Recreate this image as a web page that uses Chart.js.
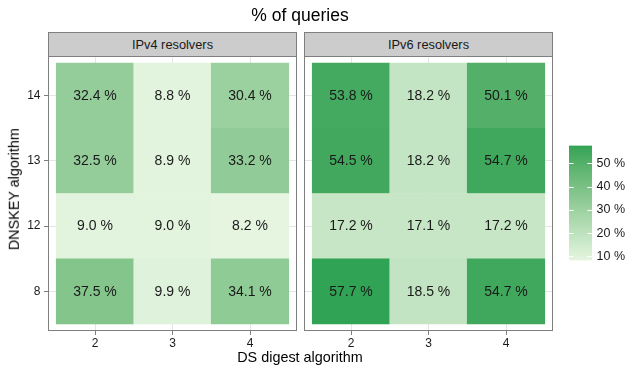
<!DOCTYPE html>
<html>
<head>
<meta charset="utf-8">
<script src="https://cdn.jsdelivr.net/npm/chart.js@4/dist/chart.umd.min.js"></script>
<style>
  html, body { margin: 0; padding: 0; background: #ffffff; }
  #wrap { position: relative; width: 627px; height: 367px; overflow: hidden; background: #ffffff;
          font-family: 'Liberation Sans', Arial, Helvetica, sans-serif; color: #000; }
  #wrap canvas { position: absolute; left: 0; top: 0; width: 627px; height: 367px; }
  .txt { position: absolute; white-space: nowrap; text-align: center; line-height: 1; }
  .strip { position: absolute; box-sizing: border-box; border: 1px solid #7f7f7f; background: #cccccc;
           text-align: center; font-size: 12.8px; line-height: 22px; padding-top: 1px; color: #1a1a1a; }
</style>
</head>
<body>
<div id="wrap">
  <canvas id="panel1" width="627" height="367"></canvas>
  <canvas id="panel2" width="627" height="367"></canvas>
  <canvas id="colorbar" width="627" height="367"></canvas>
  <div class="txt" id="title" style="left:0;width:600px;top:7px;font-size:17.5px;">% of queries</div>
  <div class="txt" id="xtitle" style="left:0;width:600px;top:349.8px;font-size:14.4px;">DS digest algorithm</div>
  <div class="txt" id="ytitle" style="left:-85.7px;top:181.5px;width:200px;height:14.4px;font-size:14.4px;transform:rotate(-90deg);">DNSKEY algorithm</div>
</div>
<script>
// DS digest algorithms (columns) and DNSKEY algorithms (rows, bottom to top)
const dsAlgorithms = ['2', '3', '4'];
const dnskeyAlgorithms = ['8', '12', '13', '14'];

// share of queries in percent, one row per DNSKEY algorithm, one column per DS digest
const ipv4Shares = [
  [37.5, 9.9, 34.1],   // 8
  [9.0, 9.0, 8.2],     // 12
  [32.5, 8.9, 33.2],   // 13
  [32.4, 8.8, 30.4]    // 14
];
const ipv6Shares = [
  [57.7, 18.5, 54.7],  // 8
  [17.2, 17.1, 17.2],  // 12
  [54.5, 18.2, 54.7],  // 13
  [53.8, 18.2, 50.1]   // 14
];
const panelNames = ['IPv4 resolvers', 'IPv6 resolvers'];
const legendBreaks = [10, 20, 30, 40, 50];

const FONT = "'Liberation Sans', Arial, Helvetica, sans-serif";
const LOW = '#e5f5e0', HIGH = '#31a354';

// ---- colour scale: linear gradient interpolated in CIE Lab ----
function hex2rgb(h) { return [1, 3, 5].map(i => parseInt(h.slice(i, i + 2), 16)); }
function toLin(c) { c /= 255; return c <= 0.04045 ? c / 12.92 : Math.pow((c + 0.055) / 1.055, 2.4); }
function fromLin(c) {
  const v = c <= 0.0031308 ? 12.92 * c : 1.055 * Math.pow(c, 1 / 2.4) - 0.055;
  return Math.round(Math.max(0, Math.min(1, v)) * 255);
}
const WP = [0.95047, 1, 1.08883];
function rgb2lab(rgb) {
  const [R, G, B] = rgb.map(toLin);
  const X = 0.4124564 * R + 0.3575761 * G + 0.1804375 * B;
  const Y = 0.2126729 * R + 0.7151522 * G + 0.0721750 * B;
  const Z = 0.0193339 * R + 0.1191920 * G + 0.9503041 * B;
  const f = t => t > 0.008856 ? Math.cbrt(t) : 7.787 * t + 16 / 116;
  const fx = f(X / WP[0]), fy = f(Y / WP[1]), fz = f(Z / WP[2]);
  return [116 * fy - 16, 500 * (fx - fy), 200 * (fy - fz)];
}
function lab2rgb(lab) {
  const [L, a, b] = lab;
  const fy = (L + 16) / 116, fx = fy + a / 500, fz = fy - b / 200;
  const finv = t => (t * t * t > 0.008856 ? t * t * t : (t - 16 / 116) / 7.787);
  const X = WP[0] * finv(fx), Y = WP[1] * finv(fy), Z = WP[2] * finv(fz);
  const R = 3.2404542 * X - 1.5371385 * Y - 0.4985314 * Z;
  const G = -0.9692660 * X + 1.8760108 * Y + 0.0415560 * Z;
  const B = 0.0556434 * X - 0.2040259 * Y + 1.0572252 * Z;
  return [fromLin(R), fromLin(G), fromLin(B)];
}
const allShares = ipv4Shares.flat().concat(ipv6Shares.flat());
const scaleLo = Math.min(...allShares), scaleHi = Math.max(...allShares);
const labLow = rgb2lab(hex2rgb(LOW)), labHigh = rgb2lab(hex2rgb(HIGH));
function fillFor(v) {
  const t = Math.max(0, Math.min(1, (v - scaleLo) / (scaleHi - scaleLo)));
  const lab = labLow.map((c, k) => c + (labHigh[k] - c) * t);
  const [r, g, b] = lab2rgb(lab);
  return `rgb(${r},${g},${b})`;
}

// ---- shared plugins ----
function cellLabels(values) {
  return {
    id: 'cellLabels',
    afterDatasetsDraw(chart) {
      const { ctx, scales: { x, y } } = chart;
      ctx.save();
      ctx.font = `14px ${FONT}`;
      ctx.fillStyle = '#1a1a1a';
      ctx.textAlign = 'center';
      ctx.textBaseline = 'middle';
      values.forEach((row, i) => row.forEach((v, j) => {
        ctx.fillText(v.toFixed(1) + ' %', x.getPixelForValue(j + 1), y.getPixelForValue(i + 1) + 0.5);
      }));
      ctx.restore();
    }
  };
}
const panelFrame = {
  id: 'panelFrame',
  afterDraw(chart) {
    const a = chart.chartArea, ctx = chart.ctx;
    ctx.save();
    ctx.strokeStyle = '#7f7f7f';
    ctx.lineWidth = 1;
    ctx.strokeRect(a.left, a.top, a.right - a.left, a.bottom - a.top);
    ctx.restore();
  }
};

// ---- heatmap panels ----
const PANEL_TOP = 56.5, PANEL_BOTTOM = 330.5, PANEL_W = 248;
function makePanel(canvasId, values, left, showRowLabels) {
  const right = left + PANEL_W;
  return new Chart(document.getElementById(canvasId), {
    type: 'bar',
    data: {
      datasets: dnskeyAlgorithms.map((alg, i) => ({
        label: alg,
        data: dsAlgorithms.map((d, j) => ({ x: j + 1, y: [i + 0.5, i + 1.5] })),
        backgroundColor: values[i].map(fillFor),
        borderWidth: 0,
        grouped: false,
        barPercentage: 1,
        categoryPercentage: 1
      }))
    },
    options: {
      responsive: false,
      animation: false,
      devicePixelRatio: 1,
      events: [],
      layout: { padding: { left: 0, top: PANEL_TOP, right: 627 - right, bottom: 0 } },
      plugins: { legend: { display: false }, tooltip: { enabled: false }, title: { display: false } },
      scales: {
        x: {
          type: 'linear', min: 0.4, max: 3.6, offset: false,
          border: { display: false },
          grid: { offset: false, color: '#e5e5e5', tickColor: '#7f7f7f', tickLength: 4.5, lineWidth: 1 },
          ticks: {
            padding: 1.5, color: '#1a1a1a', font: { family: FONT, size: 12 },
            maxRotation: 0, autoSkip: false,
            callback: v => dsAlgorithms[v - 1]
          },
          afterBuildTicks: s => { s.ticks = dsAlgorithms.map((d, j) => ({ value: j + 1 })); },
          afterFit: s => { s.height = 367 - PANEL_BOTTOM; }
        },
        y: {
          type: 'linear', min: 0.4, max: 4.6, offset: false,
          border: { display: false },
          grid: { offset: false, color: '#e5e5e5', tickColor: '#7f7f7f', tickLength: 4.5, lineWidth: 1, drawTicks: showRowLabels },
          ticks: {
            display: showRowLabels, padding: 3.5, color: '#1a1a1a', font: { family: FONT, size: 12 },
            autoSkip: false,
            callback: v => dnskeyAlgorithms[v - 1]
          },
          afterBuildTicks: s => { s.ticks = dnskeyAlgorithms.map((a, i) => ({ value: i + 1 })); },
          afterFit: s => { s.width = left; }
        }
      }
    },
    plugins: [cellLabels(values), panelFrame]
  });
}

makePanel('panel1', ipv4Shares, 48.5, true);
makePanel('panel2', ipv6Shares, 304.5, false);

// strip headers above each panel
[48, 304].forEach((x, p) => {
  const d = document.createElement('div');
  d.className = 'strip';
  d.style.left = x + 'px';
  d.style.top = '32px';
  d.style.width = '249px';
  d.style.height = '25px';
  d.textContent = panelNames[p];
  document.getElementById('wrap').appendChild(d);
});

// ---- colour bar legend ----
const BAR_TOP = 145.5, BAR_BOTTOM = 260.5, BAR_LEFT = 569, BAR_RIGHT = 592;
const colorbarTicks = {
  id: 'colorbarTicks',
  afterDatasetsDraw(chart) {
    const { ctx, chartArea: a, scales: { y } } = chart;
    const len = (a.right - a.left) / 5;
    ctx.save();
    ctx.strokeStyle = '#ffffff';
    ctx.lineWidth = 1;
    legendBreaks.forEach(b => {
      const py = Math.round(y.getPixelForValue(b)) + 0.5;
      ctx.beginPath();
      ctx.moveTo(a.left, py); ctx.lineTo(a.left + len, py);
      ctx.moveTo(a.right - len, py); ctx.lineTo(a.right, py);
      ctx.stroke();
    });
    ctx.restore();
  }
};
new Chart(document.getElementById('colorbar'), {
  type: 'bar',
  data: {
    labels: ['% of queries'],
    datasets: [{
      data: [[scaleLo, scaleHi]],
      backgroundColor: (c) => {
        const area = c.chart.chartArea;
        if (!area) return fillFor(scaleLo);
        const g = c.chart.ctx.createLinearGradient(0, area.bottom, 0, area.top);
        for (let k = 0; k <= 40; k++) {
          g.addColorStop(k / 40, fillFor(scaleLo + (scaleHi - scaleLo) * k / 40));
        }
        return g;
      },
      borderWidth: 0,
      barPercentage: 1,
      categoryPercentage: 1
    }]
  },
  options: {
    responsive: false,
    animation: false,
    devicePixelRatio: 1,
    events: [],
    layout: { padding: { left: BAR_LEFT, top: BAR_TOP, right: 0, bottom: 367 - BAR_BOTTOM } },
    plugins: { legend: { display: false }, tooltip: { enabled: false } },
    scales: {
      x: { display: false },
      y: {
        position: 'right', min: scaleLo, max: scaleHi,
        border: { display: false },
        grid: { display: false, drawTicks: false, tickLength: 0 },
        ticks: {
          padding: 4.5, color: '#1a1a1a', font: { family: FONT, size: 12.5 },
          callback: v => v + ' %'
        },
        afterBuildTicks: s => { s.ticks = legendBreaks.map(v => ({ value: v })); },
        afterFit: s => { s.width = 627 - BAR_RIGHT; }
      }
    }
  },
  plugins: [colorbarTicks]
});
</script>
</body>
</html>
